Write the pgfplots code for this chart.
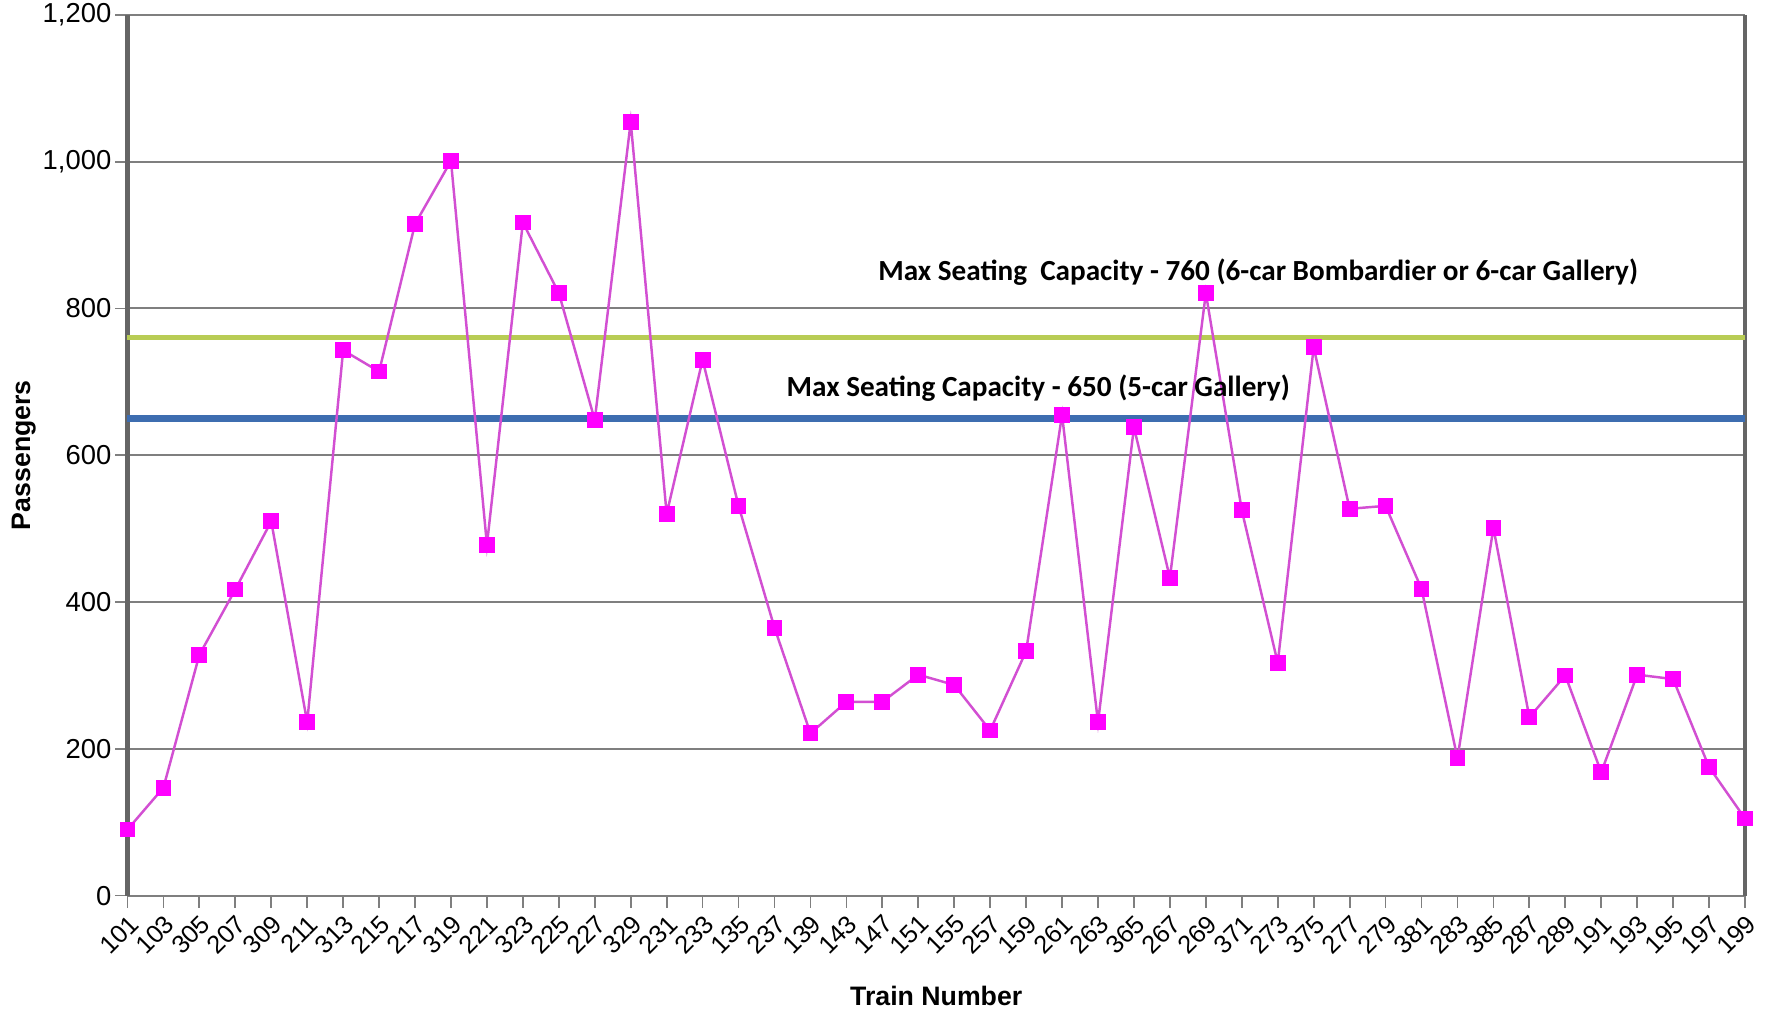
\documentclass[border=0pt]{standalone}
\usepackage{fontspec}
\setmainfont{Liberation Sans}
\newfontfamily\calib{Carlito}
\usepackage{pgfplots}
\pgfplotsset{compat=1.18}

\definecolor{ridership}{HTML}{FF00FF}
\definecolor{ridline}{HTML}{D24FD2}
\definecolor{cap760}{HTML}{B8CC55}
\definecolor{cap650}{HTML}{3D6DB0}
\definecolor{gridc}{HTML}{7F7F7F}

\begin{document}
\begin{tikzpicture}[x=1mm,y=1mm]
\begin{axis}[
    scale only axis,
    width=161.8mm,
    height=88.1mm,
    xmin=0, xmax=45,
    ymin=0, ymax=1200,
    ytick={0,200,400,600,800,1000,1200},
    xtick={0,...,45},
    xticklabels={101,103,305,207,309,211,313,215,217,319,221,323,225,227,329,231,233,135,237,139,143,147,151,155,257,159,261,263,365,267,269,371,273,375,277,279,381,283,385,287,289,191,193,195,197,199},
    xticklabel style={rotate=45, anchor=north east, font=\fontsize{7.2}{8}\selectfont, inner sep=1pt},
    yticklabel style={font=\fontsize{7.8}{9}\selectfont, inner sep=1pt},
    /pgf/number format/assume math mode=true,
    /pgf/number format/1000 sep={,},
    tick align=outside,
    tick pos=left,
    major tick length=1.2mm,
    tick style={gridc, line width=0.5pt},
    ymajorgrids,
    grid style={gridc, line width=0.6pt},
    axis line style={gridc, line width=0.6pt},
    separate axis lines,
    y axis line style={line width=1.4pt, gridc!80!black},
    xlabel={\bfseries Train Number},
    ylabel={\bfseries Passengers},
    xlabel style={font=\fontsize{7.6}{9}\selectfont, yshift=-1.3mm},
    ylabel style={font=\fontsize{7.6}{9}\selectfont, yshift=-0.9mm},
    clip=false,
]
% capacity lines
\addplot[cap760, line width=1.3pt] coordinates {(0,760) (45,760)};
\addplot[cap650, line width=1.9pt] coordinates {(0,650) (45,650)};

% passengers per train
\addplot[ridline, line width=0.7pt, mark=square*, mark size=1.9pt,
         mark options={ridership, solid}] coordinates {
    (0,90) (1,147) (2,328) (3,417) (4,510) (5,236) (6,743) (7,714)
    (8,915) (9,1001) (10,478) (11,917) (12,821) (13,648) (14,1054) (15,520)
    (16,730) (17,531) (18,365) (19,221) (20,264) (21,264) (22,301) (23,287)
    (24,225) (25,333) (26,655) (27,236) (28,638) (29,433) (30,821) (31,525)
    (32,317) (33,747) (34,527) (35,531) (36,418) (37,187) (38,501) (39,243)
    (40,300) (41,168) (42,301) (43,295) (44,175) (45,105)
};

\node[anchor=west, font=\calib\bfseries\fontsize{8.3}{10}\selectfont, inner sep=0pt]
    at (axis cs:20.87,849) {Max Seating\ \ Capacity - 760 (6-car Bombardier or 6-car Gallery)};
\node[anchor=west, font=\calib\bfseries\fontsize{8.3}{10}\selectfont, inner sep=0pt]
    at (axis cs:18.32,691) {Max Seating Capacity - 650 (5-car Gallery)};

% keep the right margin of the reference
\path (axis cs:45,0) ++(2.3mm,0) coordinate (rm);
\useasboundingbox (rm);
\end{axis}
\end{tikzpicture}
\end{document}
